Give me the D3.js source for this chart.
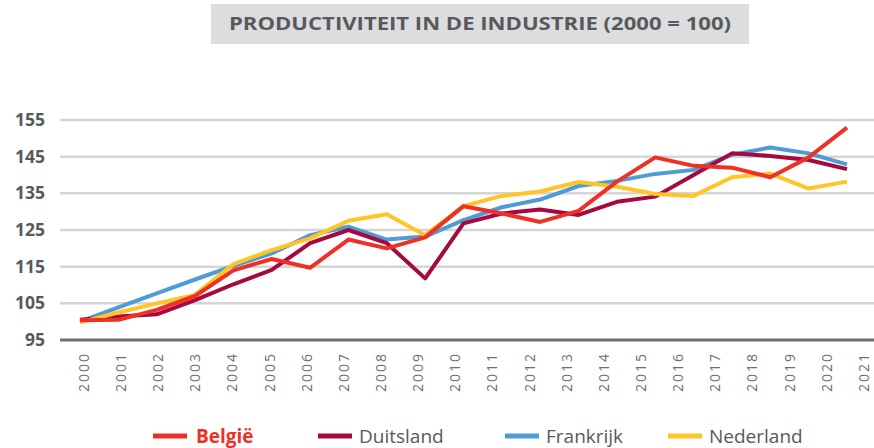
<!DOCTYPE html>
<html>
<head>
<meta charset="utf-8">
<script src="https://cdn.jsdelivr.net/npm/d3@7"></script>
<style>
  body { margin: 0; background: #fff; }
  svg { display: block; font-family: 'Open Sans', sans-serif; }
</style>
</head>
<body>
<svg class="chartSvg"></svg>
<script>
// values (index, 2000 = 100)
let years = [2000, 2001, 2002, 2003, 2004, 2005, 2006, 2007, 2008, 2009, 2010,
  2011, 2012, 2013, 2014, 2015, 2016, 2017, 2018, 2019, 2020];
let yearLabels = [2000, 2001, 2002, 2003, 2004, 2005, 2006, 2007, 2008, 2009, 2010,
  2011, 2012, 2013, 2014, 2015, 2016, 2017, 2018, 2019, 2020, 2021];
let yTicks = [95, 105, 115, 125, 135, 145, 155];

let belgie = [100.4, 100.5, 103.2, 107, 114, 117.1, 114.7, 122.4, 120, 123, 131.5,
  129.5, 127.2, 130.2, 138.2, 144.8, 142.5, 142, 139.4, 144.8, 152.9];
let duitsland = [100.5, 101.4, 102, 105.9, 110.2, 114.1, 121.4, 125, 121.4, 111.8, 126.8,
  129.5, 130.6, 129.1, 132.7, 134.1, 140, 145.9, 145.2, 144.1, 141.6];
let frankrijk = [100, 103.9, 107.7, 111.5, 115.2, 118.6, 123.6, 125.9, 122.4, 123.2, 127.7,
  131.2, 133.3, 137, 138.4, 140.3, 141.4, 145.5, 147.5, 145.9, 142.9];
let nederland = [99.8, 102.5, 105, 107.3, 115.7, 119.5, 122.7, 127.5, 129.3, 123.6, 131.5,
  134.3, 135.5, 138.1, 136.8, 134.8, 134.3, 139.4, 140.4, 136.3, 138.2];

let names = ['België', 'Duitsland', 'Frankrijk', 'Nederland'];
let colors = ['#ee3124', '#a6093d', '#4e9bd6', '#ffc425'];

let width = 874;
let height = 448;

let svg = d3.select('.chartSvg').attr('width', width).attr('height', height);

// title box
svg.append('rect')
  .attr('x', 211).attr('y', 4)
  .attr('width', 538).attr('height', 40)
  .attr('fill', '#dcdddf');
svg.append('text')
  .attr('x', 480).attr('y', 24)
  .attr('dy', '0.35em')
  .attr('text-anchor', 'middle')
  .attr('fill', '#58595b')
  .style('font-weight', 700)
  .style('font-size', '18px')
  .attr('textLength', 502)
  .attr('lengthAdjust', 'spacingAndGlyphs')
  .text('PRODUCTIVITEIT IN DE INDUSTRIE (2000 = 100)');

// scales
let yScale = d3.scaleLinear().domain([95, 155]).range([340, 120]);
let xScale = d3.scaleLinear().domain([2000, 2020]).range([80, 847]);
let xLabelScale = d3.scaleLinear().domain([2000, 2021]).range([84, 864]);

// gridlines
svg.append('g')
  .selectAll('line')
  .data(yTicks)
  .enter()
  .append('line')
  .attr('x1', 60)
  .attr('x2', width)
  .attr('y1', (d) => yScale(d))
  .attr('y2', (d) => yScale(d))
  .attr('stroke', (d) => (d === 95 ? '#6d6e71' : '#d5d5d5'))
  .attr('stroke-width', (d) => (d === 95 ? 3 : 2.5));

// y labels
svg.append('g')
  .selectAll('text')
  .data(yTicks)
  .enter()
  .append('text')
  .attr('x', 45)
  .attr('y', (d) => yScale(d))
  .attr('dy', '0.35em')
  .attr('text-anchor', 'end')
  .attr('fill', '#58595b')
  .style('font-weight', 700)
  .style('font-size', '17.5px')
  .text((d) => d);

// x labels, rotated
svg.append('g')
  .selectAll('text')
  .data(yearLabels)
  .enter()
  .append('text')
  .attr('transform', (d) => `translate(${xLabelScale(d)}, 352) rotate(-90)`)
  .attr('dy', '0.35em')
  .attr('text-anchor', 'end')
  .attr('fill', '#6d6e71')
  .style('font-size', '14px')
  .style('letter-spacing', '2px')
  .text((d) => d);

// lines
const line = d3
  .line()
  .x((d, i) => xScale(years[i]))
  .y((d) => yScale(d));

let series = [belgie, duitsland, frankrijk, nederland];
let drawOrder = [2, 1, 3, 0];

svg.append('g')
  .selectAll('path')
  .data(drawOrder)
  .enter()
  .append('path')
  .attr('d', (i) => line(series[i]))
  .attr('fill', 'none')
  .attr('stroke', (i) => colors[i])
  .attr('stroke-width', 4)
  .attr('stroke-linejoin', 'round');

// legend
let legendX = [153, 318, 505, 668];
let legend = svg.append('g')
  .selectAll('g')
  .data(names)
  .enter()
  .append('g')
  .attr('transform', (d, i) => `translate(${legendX[i]}, 436)`);

legend.append('line')
  .attr('x1', 0).attr('x2', 34)
  .attr('stroke', (d, i) => colors[i])
  .attr('stroke-width', 5);

legend.append('text')
  .attr('x', (d, i) => (i === 0 ? 43 : 41))
  .attr('dy', '0.35em')
  .attr('fill', (d, i) => (i === 0 ? colors[0] : '#58595b'))
  .style('font-weight', (d, i) => (i === 0 ? 700 : 400))
  .style('font-size', '19px')
  .text((d) => d);
</script>
</body>
</html>
